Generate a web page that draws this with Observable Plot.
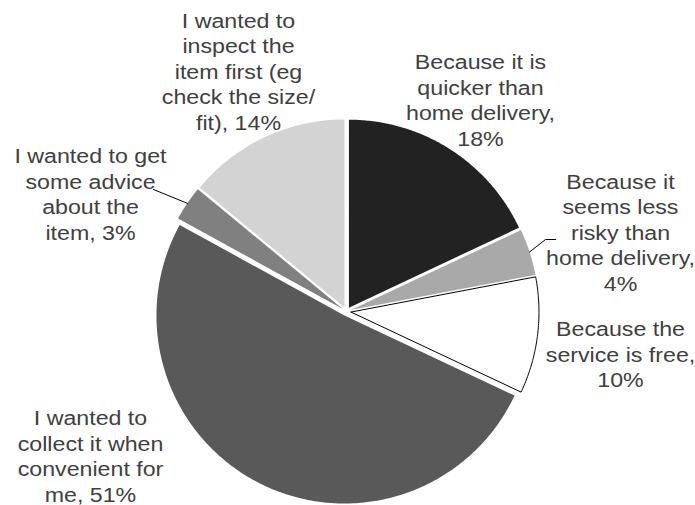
<!DOCTYPE html>
<html>
<head>
<meta charset="utf-8">
<script src="https://cdn.jsdelivr.net/npm/d3@7"></script>
<script src="https://cdn.jsdelivr.net/npm/@observablehq/plot@0.6"></script>
<style>
  html, body { margin: 0; padding: 0; background: #ffffff; }
  #chart svg { display: block; }
</style>
</head>
<body>
<div id="chart"></div>
<script>
// ---- data ----
const categories = [
  "Because it is quicker than home delivery",
  "Because it seems less risky than home delivery",
  "Because the service is free",
  "I wanted to collect it when convenient for me",
  "I wanted to get some advice about the item",
  "I wanted to inspect the item first (eg check the size/fit)"
];
const values = [18, 4, 10, 51, 3, 14];
const labels = [
  "Because it is\nquicker than\nhome delivery,\n18%",
  "Because it\nseems less\nrisky than\nhome delivery,\n4%",
  "Because the\nservice is free,\n10%",
  "I wanted to\ncollect it when\nconvenient for\nme, 51%",
  "I wanted to get\nsome advice\nabout the\nitem, 3%",
  "I wanted to\ninspect the\nitem first (eg\ncheck the size/\nfit), 14%"
];
const colors = ["#222222", "#a9a9a9", "#ffffff", "#595959", "#808080", "#d3d3d3"];

// ---- layout ----
const W = 695, H = 505, cx = 346, cy = 311, R = 188, explode = 4.5 / R;
const ux = px => (px - cx) / R;
const uy = py => (cy - py) / R;
const labelPos = [[480, 99], [620, 231], [620, 353], [90, 455], [90, 193], [238, 70]];
const leaderEnds = {1: [[545, 239], [555, 239]], 4: [[153, 189]]};

const arcs = d3.pie().sort(null).value(d => d)(values);
const slices = arcs.map((a, i) => {
  const mid = (a.startAngle + a.endAngle) / 2;
  const ox = explode * Math.sin(mid), oy = explode * Math.cos(mid);
  const pts = [{x: ox, y: oy}];
  const n = Math.max(8, Math.ceil((a.endAngle - a.startAngle) / 0.01));
  for (let k = 0; k <= n; k++) {
    const t = a.startAngle + (a.endAngle - a.startAngle) * k / n;
    pts.push({x: ox + Math.sin(t), y: oy + Math.cos(t)});
  }
  pts.push({x: ox, y: oy});
  return {pts, color: colors[i], mid, i, category: categories[i]};
});

const leaders = Object.entries(leaderEnds).map(([k, ends]) => {
  const s = slices[+k];
  const r = 1 + explode;
  const pts = [{x: r * Math.sin(s.mid), y: r * Math.cos(s.mid)}];
  ends.forEach(([px, py]) => pts.push({x: ux(px), y: uy(py)}));
  return pts;
});

const labelData = labels.map((t, i) => ({text: t, x: ux(labelPos[i][0]), y: uy(labelPos[i][1])}));

const marks = [];
slices.forEach(s => {
  marks.push(Plot.line(s.pts, {
    x: "x", y: "y", curve: "linear",
    fill: s.color,
    stroke: s.color === "#ffffff" ? "#000000" : "none",
    strokeWidth: 1
  }));
});
leaders.forEach(p => marks.push(Plot.line(p, {x: "x", y: "y", stroke: "#000000", strokeWidth: 1, curve: "linear"})));
marks.push(Plot.text(labelData, {
  x: "x", y: "y", text: "text",
  fontSize: 20, lineHeight: 1.275,
  fill: "#404040", textAnchor: "middle", lineAnchor: "middle",
  fontFamily: "Liberation Sans, Arial, sans-serif"
}));

const chart = Plot.plot({
  width: W, height: H,
  margin: 0,
  x: {axis: null, domain: [ux(0), ux(W)]},
  y: {axis: null, domain: [uy(H), uy(0)]},
  style: {background: "#ffffff"},
  marks
});

// widen the label text horizontally to match the reference lettering
const sx = 1.16;
chart.querySelectorAll("text").forEach(t => {
  const tr = t.getAttribute("transform");
  if (tr) {
    t.setAttribute("transform", tr + ` scale(${sx},1)`);
  } else {
    const x = +t.getAttribute("x") || 0, y = +t.getAttribute("y") || 0;
    t.setAttribute("transform", `translate(${x},${y}) scale(${sx},1) translate(${-x},${-y})`);
  }
});

document.getElementById("chart").appendChild(chart);
</script>
</body>
</html>
